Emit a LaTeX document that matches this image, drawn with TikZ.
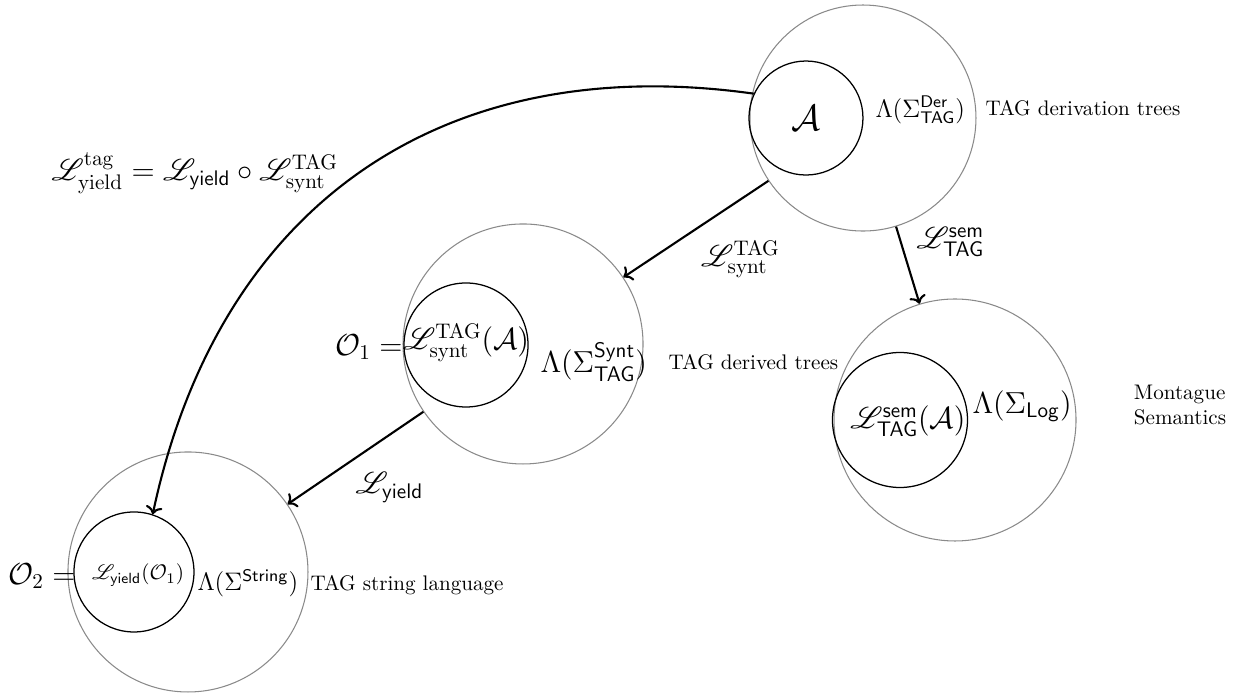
\documentclass[tikz,border=0pt]{standalone}
\usepackage{amsmath}
\usepackage{mathrsfs}
\usetikzlibrary{arrows.meta, positioning}
\definecolor{cgrey}{HTML}{8A8A8A}
\tikzset{
  outer/.style={circle, draw=cgrey, line width=0.5pt, minimum size=#1, inner sep=0pt},
  inner/.style={circle, draw=black, line width=0.6pt, minimum size=#1, inner sep=0pt},
  arrow/.style={->, line width=1pt},
  txt/.style={anchor=west, inner sep=1pt},
}

\begin{document}
\begin{tikzpicture}[
    math/.style={inner sep=1pt},
    lab/.style={inner sep=2pt, font=\Large},
  ]
  \useasboundingbox (0,0) rectangle (20.917,11.6);

  % derivation trees
  \node[outer=3.767cm] (der) at (14.383,9.633) {};
  \node[inner=1.9cm] (derin) at (13.433,9.633) {\LARGE$\mathcal{A}$};
  \node[txt] (derlam) at (14.55,9.767) {\large$\Lambda(\Sigma^{\mathsf{Der}}_{\mathsf{TAG}})$};
  \node[txt] (dertxt) at (16.383,9.8) {TAG derivation trees};

  % derived trees
  \node[outer=4cm] (synt) at (8.717,5.867) {};
  \node[inner=2.067cm] (syntin) at (7.767,5.85) {};
  \node[math, font=\Large] (syntlbl) at (7.767,5.883) {$\mathscr{L}^{\mathrm{TAG}}_{\mathrm{synt}}(\mathcal{A})$};
  \node[math, font=\Large, anchor=east] (o1) at (6.75,5.817) {$\mathcal{O}_1 =$};
  \node[txt] (syntlam) at (8.967,5.567) {\Large$\Lambda(\Sigma^{\mathsf{Synt}}_{\mathsf{TAG}})$};
  \node[txt] (synttxt) at (11.1,5.567) {TAG derived trees};

  % semantics
  \node[outer=4.033cm] (log) at (15.917,4.6) {};
  \node[inner=2.25cm] (login) at (15,4.6) {};
  \node[math, font=\Large] (loglbl) at (15.133,4.583) {$\mathscr{L}^{\mathsf{sem}}_{\mathsf{TAG}}(\mathcal{A})$};
  \node[txt] (loglam) at (16.167,4.833) {\Large$\Lambda(\Sigma_{\mathsf{Log}})$};
  \node[align=left] (logtxt) at (19.667,4.85) {Montague\\Semantics};

  % string language
  \node[outer=4cm] (str) at (3.133,2.067) {};
  \node[inner=2cm] (strin) at (2.233,2.067) {};
  \node[math] (strlbl) at (2.3,2.017) {$\mathscr{L}_{\mathsf{yield}}(\mathcal{O}_1)$};
  \node[math, font=\Large, anchor=east] (o2) at (1.3,2.0) {$\mathcal{O}_2 =$};
  \node[txt] (strlam) at (3.25,1.883) {\large$\Lambda(\Sigma^{\mathsf{String}})$};
  \node[txt] (strtxt) at (5.133,1.85) {TAG string language};

  % maps
  \draw[arrow] (der) -- node[lab, pos=0.5, below right, yshift=-3pt] {$\mathscr{L}^{\mathrm{TAG}}_{\mathrm{synt}}$} (synt);
  \draw[arrow] (der) -- node[lab, pos=0.2, right, xshift=5pt] {$\mathscr{L}^{\mathsf{sem}}_{\mathsf{TAG}}$} (log);
  \draw[arrow] (synt) -- node[lab, pos=0.6, below right, xshift=4pt] {$\mathscr{L}_{\mathsf{yield}}$} (str);
  \draw[arrow, looseness=1.1] (derin.155) to[out=172, in=78]
    node[lab, pos=0.55, above left, xshift=6pt, yshift=-2pt] {$\mathscr{L}^{\mathrm{tag}}_{\mathrm{yield}} = \mathscr{L}_{\mathsf{yield}} \circ \mathscr{L}^{\mathrm{TAG}}_{\mathrm{synt}}$} (strin.72);
\end{tikzpicture}
\end{document}
